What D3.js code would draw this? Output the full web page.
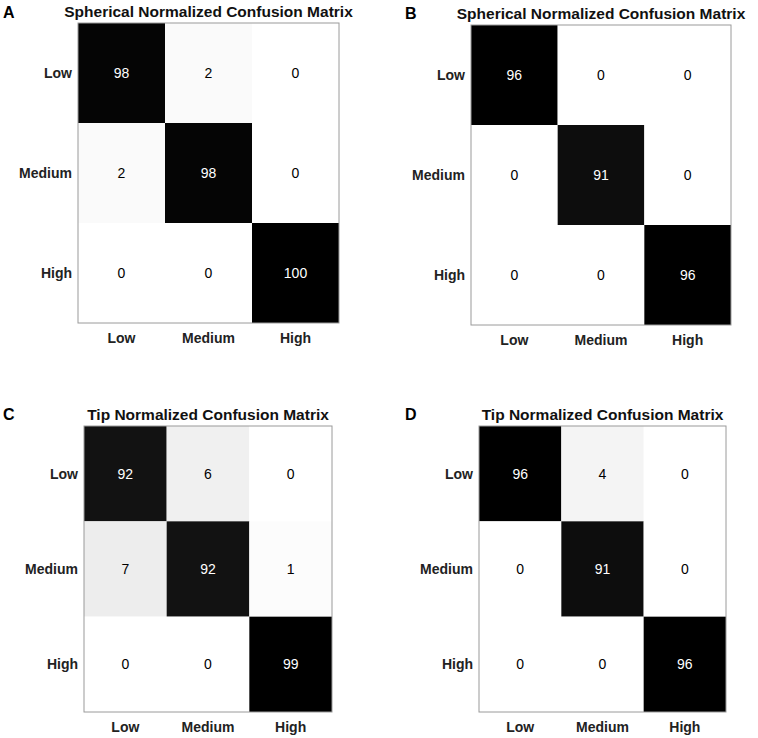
<!DOCTYPE html>
<html>
<head>
<meta charset="utf-8">
<script src="https://cdn.jsdelivr.net/npm/d3@7"></script>
<style>
  body { margin: 0; background: #fff; }
  text { font-family: "Liberation Sans", Arial, sans-serif; }
</style>
</head>
<body>
<div id="chart"></div>
<script>
////////////////////////////////////////////////////////////////////////
// Data

let classes = ["Low", "Medium", "High"];

let matrixA = [[98, 2, 0], [2, 98, 0], [0, 0, 100]];
let matrixB = [[96, 0, 0], [0, 91, 0], [0, 0, 96]];
let matrixC = [[92, 6, 0], [7, 92, 1], [0, 0, 99]];
let matrixD = [[96, 4, 0], [0, 91, 0], [0, 0, 96]];

let titles = ["Spherical Normalized Confusion Matrix",
              "Spherical Normalized Confusion Matrix",
              "Tip Normalized Confusion Matrix",
              "Tip Normalized Confusion Matrix"];
let letters = ["A", "B", "C", "D"];

////////////////////////////////////////////////////////////////////////
// Layout (pixel boxes of each panel's matrix)

let panels = [
  { m: matrixA, x0: 78,  x1: 339, y0: 23,  y1: 323, lx: 3,   ly: 18 },
  { m: matrixB, x0: 471, x1: 731, y0: 25,  y1: 325, lx: 405, ly: 19 },
  { m: matrixC, x0: 84,  x1: 332, y0: 426, y1: 712, lx: 3,   ly: 420 },
  { m: matrixD, x0: 479, x1: 726, y0: 426, y1: 712, lx: 405, ly: 420 }
];

let svg = d3.select("#chart")
  .append("svg")
  .attr("width", 758)
  .attr("height", 738);

panels.forEach(function(p, i) {
  let xScale = d3.scaleBand().domain(classes).range([p.x0, p.x1]);
  let yScale = d3.scaleBand().domain(classes).range([p.y0, p.y1]);
  let maxVal = d3.max(p.m, function(r) { return d3.max(r); });
  let colorScale = d3.scaleLinear().domain([0, maxVal]).range(["#ffffff", "#000000"]);

  let cells = [];
  p.m.forEach(function(row, r) {
    row.forEach(function(v, c) {
      cells.push({ row: classes[r], col: classes[c], v: v });
    });
  });

  let g = svg.append("g");

  g.selectAll("rect.cell")
    .data(cells)
    .enter()
    .append("rect")
    .attr("class", "cell")
    .attr("x", function(d) { return xScale(d.col); })
    .attr("y", function(d) { return yScale(d.row); })
    .attr("width", xScale.bandwidth())
    .attr("height", yScale.bandwidth())
    .attr("fill", function(d) { return colorScale(d.v); });

  g.selectAll("text.val")
    .data(cells)
    .enter()
    .append("text")
    .attr("class", "val")
    .attr("x", function(d) { return xScale(d.col) + xScale.bandwidth() / 2; })
    .attr("y", function(d) { return yScale(d.row) + yScale.bandwidth() / 2; })
    .attr("dy", "0.36em")
    .attr("text-anchor", "middle")
    .attr("font-size", 14)
    .attr("fill", function(d) { return d.v > maxVal / 2 ? "#fff" : "#000"; })
    .text(function(d) { return d.v; });

  // frame
  g.append("rect")
    .attr("x", p.x0)
    .attr("y", p.y0)
    .attr("width", p.x1 - p.x0)
    .attr("height", p.y1 - p.y0)
    .attr("fill", "none")
    .attr("stroke", "#9a9a9a")
    .attr("stroke-width", 1);

  // x tick labels
  g.selectAll("text.xt")
    .data(classes)
    .enter()
    .append("text")
    .attr("class", "xt")
    .attr("x", function(d) { return xScale(d) + xScale.bandwidth() / 2; })
    .attr("y", p.y1 + 20)
    .attr("text-anchor", "middle")
    .attr("font-size", 14)
    .attr("font-weight", "bold")
    .attr("fill", "#222")
    .text(function(d) { return d; });

  // y tick labels
  g.selectAll("text.yt")
    .data(classes)
    .enter()
    .append("text")
    .attr("class", "yt")
    .attr("x", p.x0 - 6)
    .attr("y", function(d) { return yScale(d) + yScale.bandwidth() / 2; })
    .attr("dy", "0.36em")
    .attr("text-anchor", "end")
    .attr("font-size", 14)
    .attr("font-weight", "bold")
    .attr("fill", "#222")
    .text(function(d) { return d; });

  // title
  g.append("text")
    .attr("x", (p.x0 + p.x1) / 2)
    .attr("y", p.y0 - 6)
    .attr("text-anchor", "middle")
    .attr("font-size", 15.5)
    .attr("font-weight", "bold")
    .attr("fill", "#111")
    .text(titles[i]);

  // panel letter
  g.append("text")
    .attr("x", p.lx)
    .attr("y", p.ly)
    .attr("font-size", 16)
    .attr("font-weight", "bold")
    .attr("fill", "#000")
    .text(letters[i]);
});
</script>
</body>
</html>
